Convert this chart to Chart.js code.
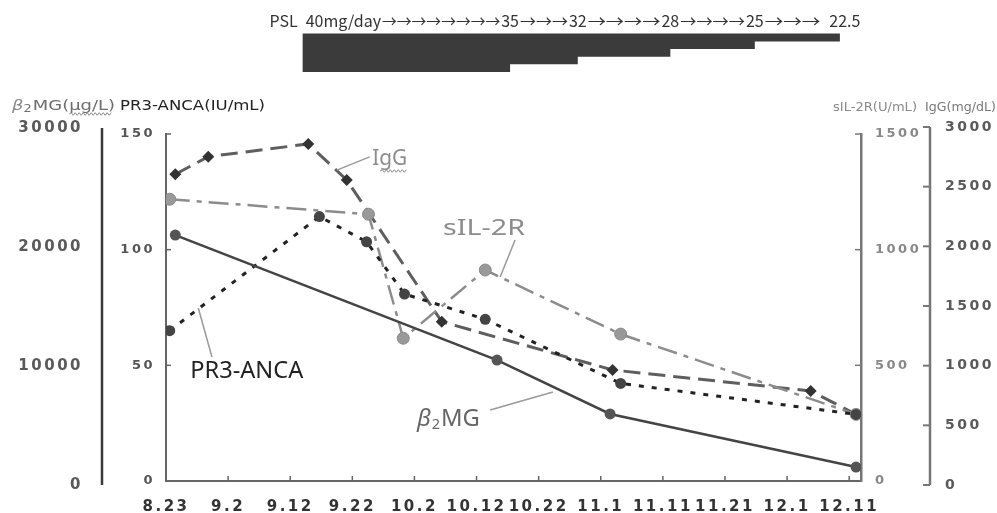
<!DOCTYPE html>
<html>
<head>
<meta charset="utf-8">
<script src="https://cdn.jsdelivr.net/npm/chart.js@4.4.1/dist/chart.umd.min.js"></script>
<style>
html,body{margin:0;padding:0;background:#fff;}
#wrap{width:997px;height:513px;position:relative;}
canvas{display:block;}
</style>
</head>
<body>
<div id="wrap"><canvas id="c" width="997" height="513"></canvas></div>
<script>
// ---- x axis (days after 8.23) ----
const xTickLabels = ['8.23','9.2','9.12','9.22','10.2','10.12','10.22','11.1','11.11','11.21','12.1','12.11'];
const xTickDays   = [0,10,20,30,40,50,60,70,80,90,100,110];

// ---- y tick values ----
const b2mgTicks = [0,10000,20000,30000];
const pr3Ticks  = [0,50,100,150];
const sil2rTicks = [0,500,1000,1500];
const iggTicks  = [0,500,1000,1500,2000,2500,3000];

// ---- series (day, value) ----
const b2mgDays   = [1.5, 53.3, 71.5, 111.1];
const b2mgValues = [21000, 10500, 5970, 1510];

const pr3Days   = [0.6, 24.7, 32.3, 38.4, 51.4, 73.2, 111.1];
const pr3Values = [65.0, 114.3, 103.4, 80.8, 69.9, 42.2, 28.8];

const sil2rDays   = [0.6, 32.6, 38.2, 51.4, 73.2, 111.1];
const sil2rValues = [1218, 1153, 617, 912, 635, 288];

const iggDays   = [1.5, 6.8, 22.9, 29.1, 44.4, 71.9, 103.8, 111.1];
const iggValues = [2604, 2751, 2858, 2556, 1368, 964, 788, 592];

// ---- PSL dosage ----
const pslStartDay = 22;
const pslStepDays = [55.4, 66.3, 81.2, 94.8, 108.5];
const pslDoseLabels = ['35','32','28','25','22.5'];
const pslFirstLabel = '40mg/day';
const pslArrowCounts = [8,3,4,4,3];

const pts = (d, v) => d.map((x, i) => ({x: x, y: v[i]}));
const setTicks = arr => s => { s.ticks = arr.map(v => ({value: v})); };
const TICKFONT = 'DejaVu Sans';

function drawParts(ctx, parts, x, y, targetW, color) {
  ctx.save();
  ctx.letterSpacing = '0px';
  ctx.textAlign = 'left'; ctx.textBaseline = 'alphabetic';
  let total = 0;
  const ws = parts.map(p => { ctx.font = p.font; const w = ctx.measureText(p.t).width; total += w + (p.gap || 0); return w; });
  const s = targetW ? targetW / total : 1;
  let cx = x; const pos = [];
  parts.forEach((p, i) => {
    ctx.save();
    ctx.font = p.font;
    ctx.fillStyle = p.color || color;
    ctx.translate(cx, y + (p.dy || 0));
    ctx.scale(s, 1);
    ctx.fillText(p.t, 0, 0);
    ctx.restore();
    pos.push([cx, cx + ws[i] * s]);
    cx += (ws[i] + (p.gap || 0)) * s;
  });
  ctx.restore();
  return pos;
}
function squiggle(ctx, x1, x2, y, color) {
  ctx.save();
  ctx.strokeStyle = color; ctx.lineWidth = 1;
  ctx.beginPath();
  let up = true; ctx.moveTo(x1, y);
  for (let x = x1 + 2; x <= x2; x += 2) { ctx.lineTo(x, y + (up ? -1.3 : 1.3)); up = !up; }
  ctx.stroke();
  ctx.restore();
}
function line(ctx, x1, y1, x2, y2, color, w) {
  ctx.save(); ctx.strokeStyle = color; ctx.lineWidth = w;
  ctx.beginPath(); ctx.moveTo(x1, y1); ctx.lineTo(x2, y2); ctx.stroke(); ctx.restore();
}

const decor = {
  id: 'decor',
  beforeDraw(chart) { chart.ctx.letterSpacing = '2.5px'; },
  afterDraw(chart) {
    const ctx = chart.ctx;
    const xs = chart.scales.x, yB = chart.scales.yB, yP = chart.scales.yP,
          yS = chart.scales.yS, yG = chart.scales.yG;
    ctx.save();
    ctx.letterSpacing = '0px';

    // --- axis lines and inward tick marks ---
    line(ctx, yB.right, yB.getPixelForValue(30000), yB.right, yB.getPixelForValue(0), '#3a3a3a', 2.5);
    pr3Ticks.slice(1).forEach(v => { const y = yP.getPixelForValue(v); line(ctx, yP.right, y, yP.right + 5, y, '#666', 1.5); });
    sil2rTicks.slice(1).forEach(v => { const y = yS.getPixelForValue(v); line(ctx, yS.left - 6, y, yS.left, y, '#777', 1.5); });
    line(ctx, yG.left, yG.getPixelForValue(3000), yG.left, yG.getPixelForValue(0), '#777', 2.5);
    iggTicks.forEach(v => { const y = yG.getPixelForValue(v); line(ctx, yG.left - 7, y, yG.left, y, '#777', 2); });
    xTickDays.slice(1).forEach(d => { const x = xs.getPixelForValue(d); line(ctx, x, xs.top, x, xs.top - 5, '#666', 1.5); });

    // --- axis titles ---
    const tp = drawParts(ctx, [
      {t: 'β', font: 'italic 14px "DejaVu Sans"', color: '#888'},
      {t: '2', font: '10px "DejaVu Sans"', dy: 2, gap: 1},
      {t: 'MG(', font: '14px "DejaVu Sans"'},
      {t: 'μg/L)', font: '14px "DejaVu Sans"'}
    ], 12, 110, 103, '#6e6e6e');
    squiggle(ctx, tp[3][0], tp[3][1] - 3, 114, '#888');
    drawParts(ctx, [{t: 'PR3-ANCA(IU/mL)', font: '14px "DejaVu Sans"'}], 120, 110, 145, '#222');
    drawParts(ctx, [{t: 'sIL-2R(U/mL)', font: '12.5px "DejaVu Sans"'}], 833, 111, 84, '#8a8a8a');
    drawParts(ctx, [{t: 'IgG(mg/dL)', font: '12.5px "DejaVu Sans"'}], 925, 111, 71, '#777');

    // --- PSL dosage bar ---
    const x0 = xs.getPixelForValue(pslStartDay);
    const sx = pslStepDays.map(d => xs.getPixelForValue(d));
    const top = 33.5, minH = 8, stepH = 7.6, n = sx.length;
    ctx.fillStyle = '#3b3b3b';
    ctx.beginPath();
    ctx.moveTo(x0, top); ctx.lineTo(sx[n - 1], top);
    for (let i = n - 1; i >= 0; i--) {
      const b = top + minH + stepH * (n - 1 - i);
      ctx.lineTo(sx[i], b);
      ctx.lineTo(i > 0 ? sx[i - 1] : x0, b);
    }
    ctx.closePath(); ctx.fill();

    // --- PSL text ---
    const pf = '16px "Noto Sans CJK JP"';
    ctx.font = pf; ctx.fillStyle = '#333'; ctx.textBaseline = 'alphabetic';
    const ty = 27;
    ctx.textAlign = 'right'; ctx.fillText('PSL', x0 - 5, ty);
    ctx.textAlign = 'left'; ctx.fillText(pslFirstLabel, x0 + 3, ty);
    const segs = [[x0 + 3, x0 + 3 + ctx.measureText(pslFirstLabel).width]];
    pslDoseLabels.forEach((lab, i) => {
      const w = ctx.measureText(lab).width;
      const cx = sx[i] + (i === n - 1 ? 5 : 0);
      ctx.fillText(lab, cx - w / 2, ty);
      segs.push([cx - w / 2, cx + w / 2]);
    });
    const aw = ctx.measureText('→').width;
    pslArrowCounts.forEach((cnt, i) => {
      const a = segs[i][1] + 1;
      const b = segs[i + 1][0] - (i === pslArrowCounts.length - 1 ? 9 : 1);
      const slot = (b - a) / cnt;
      for (let k = 0; k < cnt; k++) {
        ctx.save(); ctx.translate(a + k * slot, ty); ctx.scale(slot / aw, 1);
        ctx.fillText('→', 0, 0); ctx.restore();
      }
    });

    // --- series labels with callouts (anchored in days / PR3 units) ---
    const P = (d, v) => [xs.getPixelForValue(d), yP.getPixelForValue(v)];
    const cl = (a, b) => { const p = P(a[0], a[1]), q = P(b[0], b[1]); line(ctx, p[0], p[1], q[0], q[1], '#9a9a9a', 1.5); };

    cl([32.8, 140.1], [27.5, 134.4]);
    let p = P(33.2, 136.6);
    const ig = drawParts(ctx, [{t: 'I', font: '22px "Noto Sans"'}, {t: 'gG', font: '22px "Noto Sans"'}], p[0], p[1], 35, '#8c8c8c');
    squiggle(ctx, ig[1][0] + 1, ig[1][1], p[1] + 6, '#8c8c8c');

    cl([56.2, 104.2], [53.8, 88.2]);
    p = P(44.6, 106.3);
    drawParts(ctx, [{t: 'sIL-2R', font: '22px "Noto Sans"'}], p[0], p[1], 82, '#8c8c8c');

    cl([7.4, 53.6], [5.2, 74.8]);
    p = P(3.9, 44.5);
    drawParts(ctx, [{t: 'PR3-ANCA', font: '23px "Noto Sans"'}], p[0], p[1], 113, '#222');

    cl([52.2, 30.7], [62.3, 38.5]);
    p = P(40.4, 23.8);
    drawParts(ctx, [
      {t: 'β', font: 'italic 23px "Noto Sans"', gap: 1},
      {t: '2', font: '14px "Noto Sans"', dy: 3, gap: 1},
      {t: 'MG', font: '23px "Noto Sans"'}
    ], p[0], p[1], 63, '#666');

    ctx.restore();
  }
};

new Chart(document.getElementById('c'), {
  type: 'line',
  data: {
    datasets: [
      { label: 'β2MG', yAxisID: 'yB', data: pts(b2mgDays, b2mgValues),
        borderColor: '#444', borderWidth: 2.5, tension: 0,
        pointRadius: 5.5, pointBackgroundColor: '#555', pointBorderColor: '#555', pointBorderWidth: 0 },
      { label: 'PR3-ANCA', yAxisID: 'yP', data: pts(pr3Days, pr3Values),
        borderColor: '#222', borderWidth: 3, borderDash: [5, 8], tension: 0,
        pointRadius: 5.5, pointBackgroundColor: '#444', pointBorderColor: '#444', pointBorderWidth: 0 },
      { label: 'sIL-2R', yAxisID: 'yS', data: pts(sil2rDays, sil2rValues),
        borderColor: '#8c8c8c', borderWidth: 2.5, borderDash: [20, 7, 5, 7], tension: 0,
        pointRadius: 6, pointBackgroundColor: '#999', pointBorderColor: '#8a8a8a', pointBorderWidth: 1 },
      { label: 'IgG', yAxisID: 'yG', data: pts(iggDays, iggValues),
        borderColor: '#5e5e5e', borderWidth: 3, borderDash: [17, 8], tension: 0,
        pointStyle: 'rectRot', pointRadius: 6, pointBackgroundColor: '#333', pointBorderColor: '#333', pointBorderWidth: 0 }
    ]
  },
  options: {
    responsive: false, animation: false, devicePixelRatio: 1,
    layout: { padding: { top: 134, left: 0, right: 0, bottom: 0 } },
    plugins: { legend: { display: false }, tooltip: { enabled: false } },
    elements: { line: { fill: false } },
    scales: {
      x: {
        type: 'linear', position: 'bottom', min: 0, max: 111.9,
        afterBuildTicks: setTicks(xTickDays),
        afterFit: s => { s.height = 32; },
        grid: { display: false, drawTicks: false },
        border: { display: true, color: '#666', width: 2 },
        ticks: { autoSkip: false, maxRotation: 0, padding: 17, color: '#333',
                 font: { family: TICKFONT, size: 15, weight: 'bold' },
                 callback: v => { const i = xTickDays.indexOf(v); return i >= 0 ? xTickLabels[i] : ''; } }
      },
      yB: {
        type: 'linear', position: 'left', weight: 2, min: 336, max: 29496,
        afterBuildTicks: setTicks(b2mgTicks),
        afterFit: s => { s.width = 102; },
        grid: { display: false, drawTicks: false },
        border: { display: false },
        ticks: { padding: 19, color: '#5a5a5a', font: { family: TICKFONT, size: 15, weight: 'bold' }, callback: v => String(v) }
      },
      yP: {
        type: 'linear', position: 'left', weight: 1, min: 0, max: 150,
        afterBuildTicks: setTicks(pr3Ticks),
        afterFit: s => { s.width = 64; },
        grid: { display: false, drawTicks: false },
        border: { display: true, color: '#666', width: 2 },
        ticks: { padding: 11, color: '#555', font: { family: TICKFONT, size: 13, weight: 'bold' }, callback: v => String(v) }
      },
      yS: {
        type: 'linear', position: 'right', weight: 1, min: 0, max: 1500,
        afterBuildTicks: setTicks(sil2rTicks),
        afterFit: s => { s.width = 69; },
        grid: { display: false, drawTicks: false },
        border: { display: true, color: '#777', width: 2.5 },
        ticks: { padding: 14, color: '#888', font: { family: TICKFONT, size: 13, weight: 'bold' }, callback: v => String(v) }
      },
      yG: {
        type: 'linear', position: 'right', weight: 2, min: 33.5, max: 2941.3,
        afterBuildTicks: setTicks(iggTicks),
        afterFit: s => { s.width = 67; },
        grid: { display: false, drawTicks: false },
        border: { display: false },
        ticks: { padding: 15, color: '#5a5a5a', font: { family: TICKFONT, size: 14, weight: 'bold' }, callback: v => String(v) }
      }
    }
  },
  plugins: [decor]
});
</script>
</body>
</html>
